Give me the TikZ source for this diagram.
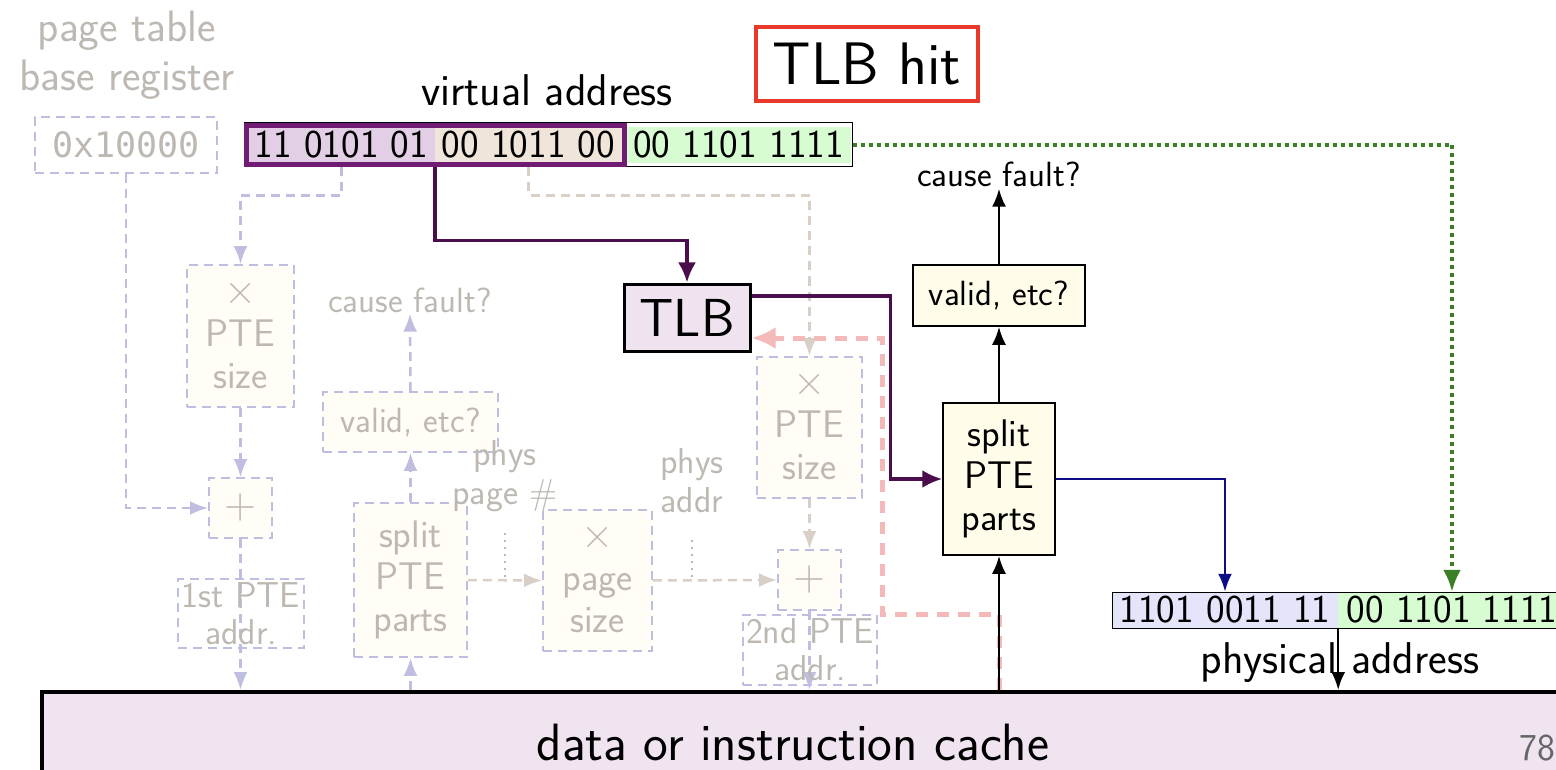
\documentclass[tikz,border=0pt]{standalone}
\usepackage{fontspec}
\newfontfamily\vmono{DejaVu Sans Mono}
\usetikzlibrary{arrows.meta,calc}
\definecolor{lav}{HTML}{C0BEE0}
\definecolor{tanc}{HTML}{D8D0C6}
\definecolor{gtxt}{HTML}{BDB8B1}
\definecolor{gfill}{HTML}{FFFDF6}
\definecolor{pinkl}{HTML}{F4BABA}
\definecolor{dpurp}{HTML}{4A0E4C}
\definecolor{vpurp}{HTML}{701C74}
\definecolor{redb}{HTML}{E8392B}
\definecolor{navyb}{HTML}{0D0D85}
\definecolor{greenb}{HTML}{3B8024}
\definecolor{vafillA}{HTML}{E2CEE5}
\definecolor{vafillB}{HTML}{F0E5DA}
\definecolor{grfill}{HTML}{D8FCD2}
\definecolor{pafill}{HTML}{E4E4FA}
\definecolor{tlbfill}{HTML}{EFE3F0}
\definecolor{yfill}{HTML}{FFFDE9}
\definecolor{cachefill}{HTML}{EFE4F0}
\definecolor{pgnum}{HTML}{666666}
\newcommand\fsz[2]{\fontsize{#1}{#2}\selectfont}
\newcommand\bigop[1]{{\fsz{44}{42}#1}}
\begin{document}
\begin{tikzpicture}[x=1pt,y=-1pt,font=\sffamily,
  gbox/.style={draw=lav,line width=1.8pt,dash pattern=on 9pt off 6pt,fill=gfill,text=gtxt,inner sep=0pt,align=center,font=\sffamily\fsz{38.5}{42}},
  glab/.style={text=gtxt,inner sep=1pt,align=center},
  garr/.style={draw=lav,line width=2.5pt,dash pattern=on 9pt off 6pt,-{Latex[length=18pt,width=14pt]}},
  tarr/.style={draw=tanc,line width=2.5pt,dash pattern=on 9pt off 6pt,-{Latex[length=18pt,width=14pt]}},
  gdot/.style={draw=gtxt,line width=2pt,dash pattern=on 2pt off 5pt},
  bbox/.style={draw=black,line width=1.5pt,fill=yfill,inner sep=0pt,align=center,font=\sffamily\fsz{38.5}{42}},
  barr/.style={draw=black,line width=2.5pt,-{Latex[length=18pt,width=14pt]}},
  parr/.style={draw=dpurp,line width=3.5pt,-{Latex[length=20pt,width=18pt]}},
  bits/.style={inner sep=0pt,minimum height=36pt,font=\sffamily\fsz{39.5}{42}},
]
\useasboundingbox (0,0) rectangle (1556,770);

% cache
\node[draw=black,line width=4pt,fill=cachefill,minimum width=1540pt,minimum height=120pt,anchor=north west,inner sep=0pt] (cache) at (40,690) {};
\node[font=\sffamily\fsz{52.5}{56},inner sep=0pt] (cachelbl) at (793,742) {data or instruction cache};
\node[text=pgnum,font=\sffamily\fsz{38}{40},inner sep=0pt] (pgno) at (1537,748) {78};

% page table base register
\node[glab,font=\sffamily\fsz{44}{49}] (ptbrlbl) at (127,55) {page table\\base register};
\node[draw=lav,line width=2.5pt,dash pattern=on 9pt off 6pt,text=gtxt,minimum width=182pt,minimum height=56pt,inner sep=0pt,font=\vmono\fsz{35}{40}] (ptbr) at (126,145) {0x10000};

% faded page-walk nodes
\node[gbox,minimum width=107pt,minimum height=142pt] (xpte1) at (240.5,336) {\bigop{×}\\PTE\\size};
\node[gbox,minimum width=63pt,minimum height=60pt] (plus1) at (240.5,508) {\bigop{+}};
\node[gbox,minimum width=113pt,minimum height=154pt] (splitg) at (410.5,580) {split\\PTE\\parts};
\node[gbox,minimum width=175pt,minimum height=60pt,font=\sffamily\fsz{35}{38}] (validg) at (410.5,422) {valid, etc?};
\node[glab,font=\sffamily\fsz{35}{38}] (causeg) at (410,300) {cause fault?};
\node[gbox,minimum width=109pt,minimum height=141pt] (xpage) at (597.5,580.5) {\bigop{×}\\page\\size};
\node[gbox,minimum width=105pt,minimum height=141pt] (xpte2) at (809.5,427.5) {\bigop{×}\\PTE\\size};
\node[gbox,minimum width=63pt,minimum height=60pt] (plus2) at (809.5,580) {\bigop{+}};

\draw[garr] (ptbr.south) |- (plus1.west);
\draw[garr] (xpte1.south) -- (plus1.north);
\draw[garr] (plus1.south) -- (plus1.south |- cache.north);
\draw[garr] (splitg.south |- cache.north) -- (splitg.south);
\draw[garr] (splitg.north) -- (validg.south);
\draw[garr] (validg.north) -- (causeg.south);
\draw[tarr] (splitg.east) -- (xpage.west);
\draw[tarr] (xpage.east) -- (plus2.west);
\draw[tarr] (xpte2.south) -- (plus2.north);
\draw[garr] (plus2.south) -- (plus2.south |- cache.north);

\node[glab,font=\sffamily\fsz{36}{39}] (physpg) at (505,476) {phys\\page \#};
\node[glab,font=\sffamily\fsz{36}{39}] (physad) at (692,481) {phys\\addr};
\draw[gdot,shorten <=20pt] (physpg.south) -- (physpg.south |- splitg.east);
\draw[gdot,shorten <=26pt] (physad.south) -- (physad.south |- xpage.east);

\node[draw=lav,line width=2.5pt,dash pattern=on 9pt off 6pt,text=gtxt,minimum width=126pt,minimum height=69pt,inner sep=0pt,align=center,font=\sffamily\fsz{36}{37}] (pte1a) at (241,613.5) {1st PTE\\addr.};
\node[draw=lav,line width=2.5pt,dash pattern=on 9pt off 6pt,text=gtxt,minimum width=134pt,minimum height=70pt,inner sep=0pt,align=center,font=\sffamily\fsz{36}{37}] (pte2a) at (810,650) {2nd PTE\\addr.};

% virtual address
\node[font=\sffamily\fsz{44.5}{46}] (valbl) at (547,90) {virtual address};
\node[bits,fill=vafillA,minimum width=187pt] (vaA) at (341.5,145) {11 0101 01};
\node[bits,fill=vafillB,minimum width=187pt] (vaB) at (528.5,145) {00 1011 00};
\node[bits,fill=grfill,minimum width=225pt] (vaC) at (738.5,145) {00 1101 1111};
\node[draw=black,line width=1pt,minimum width=608pt,minimum height=44pt,inner sep=0pt] (vaframe) at (548,145) {};
\node[draw=vpurp,line width=5pt,minimum width=378pt,minimum height=39pt,inner sep=0pt] (vapurp) at (435.5,145) {};

\draw[garr] (vaA |- vaframe.south) -- ++(0,28) -| (xpte1.north);
\draw[tarr] (vaB |- vaframe.south) -- ++(0,28) -| (xpte2.north);

% TLB hit title
\node[draw=redb,line width=4pt,minimum width=222pt,minimum height=74pt,inner sep=0pt,font=\sffamily\fsz{60}{62}] (title) at (867,64) {TLB hit};

% TLB
\node[draw=black,line width=3pt,fill=tlbfill,minimum width=126pt,minimum height=67pt,inner sep=0pt,font=\sffamily\fsz{53.5}{56}] (tlb) at (687,317.5) {TLB};

% right column
\node[bbox,minimum width=112pt,minimum height=152pt] (split) at (999,479) {split\\PTE\\parts};
\node[bbox,minimum width=172pt,minimum height=61pt,font=\sffamily\fsz{35}{38}] (valid) at (999,295.5) {valid, etc?};
\node[inner sep=2pt,font=\sffamily\fsz{35}{38}] (cause) at (999,174) {cause fault?};

% physical address
\node[bits,fill=pafill,minimum width=226pt] (pa1) at (1225,610) {1101 0011 11};
\node[bits,fill=grfill,minimum width=228pt] (pa2) at (1452,610) {00 1101 1111};
\node[draw=black,line width=1pt,minimum width=460pt,minimum height=36pt,inner sep=0pt,anchor=west] (paframe) at (1112,610) {};
\node[font=\sffamily\fsz{44.5}{46}] (palbl) at (1340,663) {physical address};

% pink fault path
\draw[pinkl,line width=5pt,dash pattern=on 12pt off 9pt,-{Latex[length=24pt,width=22pt]}] (split.south |- cache.north) -- ++(0,-76) -- ++(-117,0) -- ++(0,-276) -- ($(tlb.east)+(0,20.5)$);

% purple
\draw[parr] (vaA.east |- vaframe.south) -- ++(0,73) -| (tlb.north);
\draw[parr] ($(tlb.east)+(0,-21.5)$) -- ++(139,0) |- (split.west);

% black
\draw[barr] (split.north) -- (valid.south);
\draw[barr] (valid.north) -- (cause.south);
\draw[barr] (split.south |- cache.north) -- (split.south);
\draw[barr] (pa1.south east) -- (pa1.south east |- cache.north);

% blue and green
\draw[navyb,line width=2.5pt,-{Latex[length=18pt,width=14pt]}] (split.east) -| (pa1.north);
\draw[greenb,line width=4pt,dash pattern=on 4pt off 4pt,-{Latex[length=22pt,width=18pt]}] (vaframe.east) -| (pa2.north);
\end{tikzpicture}
\end{document}
